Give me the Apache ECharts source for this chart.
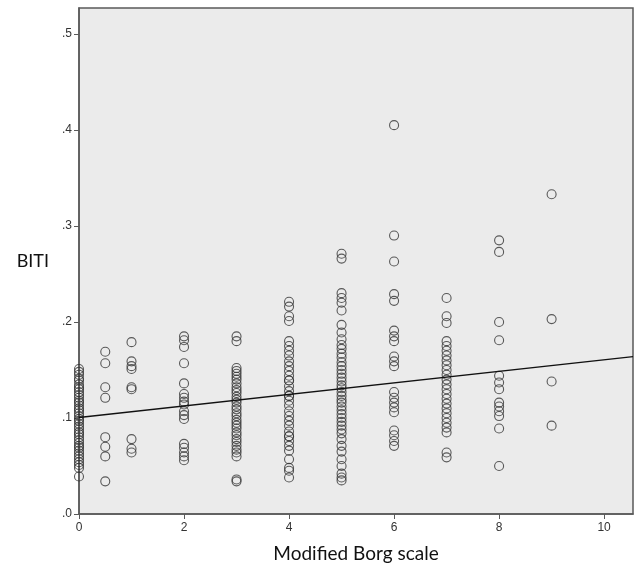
<!DOCTYPE html>
<html>
<head>
<meta charset="utf-8">
<script src="https://cdn.jsdelivr.net/npm/echarts@6/dist/echarts.min.js"></script>
<style>
  html, body { margin: 0; padding: 0; background: #fff; }
  #chart { width: 639px; height: 568px; }
</style>
</head>
<body>
<div id="chart"></div>
<script>
// Borg score columns and the BITI values
var borg = [0, 0.5, 1, 2, 3, 4, 5, 6, 7, 8, 9];
var biti0 = [0.151, 0.148, 0.145, 0.141, 0.139, 0.135, 0.132, 0.130, 0.127, 0.124, 0.121, 0.118, 0.116, 0.113, 0.110, 0.108, 0.105, 0.102, 0.099, 0.097, 0.094, 0.091, 0.088, 0.085, 0.083, 0.080, 0.077, 0.074, 0.071, 0.069, 0.066, 0.063, 0.060, 0.057, 0.054, 0.051, 0.048, 0.039];
var biti05 = [0.169, 0.157, 0.132, 0.121, 0.080, 0.070, 0.060, 0.034];
var biti1 = [0.179, 0.159, 0.154, 0.151, 0.132, 0.130, 0.078, 0.068, 0.064];
var biti2 = [0.185, 0.181, 0.174, 0.157, 0.136, 0.125, 0.121, 0.117, 0.114, 0.107, 0.103, 0.099, 0.073, 0.069, 0.064, 0.060, 0.056];
var biti3 = [0.185, 0.180, 0.152, 0.149, 0.146, 0.143, 0.140, 0.136, 0.132, 0.129, 0.126, 0.122, 0.119, 0.116, 0.112, 0.109, 0.105, 0.102, 0.098, 0.095, 0.092, 0.089, 0.085, 0.082, 0.078, 0.075, 0.071, 0.067, 0.064, 0.060, 0.036, 0.034];
var biti4 = [0.221, 0.216, 0.206, 0.201, 0.180, 0.175, 0.170, 0.165, 0.159, 0.154, 0.149, 0.144, 0.139, 0.139, 0.133, 0.128, 0.123, 0.123, 0.118, 0.113, 0.107, 0.102, 0.097, 0.092, 0.086, 0.081, 0.081, 0.076, 0.071, 0.066, 0.057, 0.048, 0.045, 0.038];
var biti5 = [0.271, 0.266, 0.230, 0.225, 0.220, 0.212, 0.197, 0.189, 0.182, 0.176, 0.172, 0.167, 0.163, 0.158, 0.154, 0.150, 0.146, 0.142, 0.138, 0.134, 0.131, 0.127, 0.123, 0.119, 0.116, 0.112, 0.108, 0.104, 0.100, 0.096, 0.092, 0.088, 0.084, 0.078, 0.071, 0.065, 0.057, 0.050, 0.042, 0.038, 0.035];
var biti6 = [0.405, 0.290, 0.263, 0.229, 0.222, 0.191, 0.185, 0.180, 0.164, 0.159, 0.154, 0.127, 0.121, 0.116, 0.111, 0.106, 0.087, 0.082, 0.076, 0.071];
var biti7 = [0.225, 0.206, 0.199, 0.180, 0.175, 0.170, 0.165, 0.160, 0.155, 0.150, 0.145, 0.140, 0.135, 0.130, 0.125, 0.120, 0.115, 0.110, 0.105, 0.100, 0.095, 0.090, 0.085, 0.064, 0.059];
var biti8 = [0.285, 0.273, 0.200, 0.181, 0.144, 0.137, 0.130, 0.116, 0.112, 0.107, 0.102, 0.089, 0.050];
var biti9 = [0.333, 0.203, 0.138, 0.092];
var columns = [biti0, biti05, biti1, biti2, biti3, biti4, biti5, biti6, biti7, biti8, biti9];

// fit line (intercept, slope) and axis ticks
var fitIntercept = 0.1005;
var fitSlope = 0.0060;
var xMax = 10.55;
var yMax = 0.527;
var xTicks = [0, 2, 4, 6, 8, 10];
var yTicks = [0, 0.1, 0.2, 0.3, 0.4, 0.5];

var points = [];
columns.forEach(function (col, i) {
  col.forEach(function (v) { points.push([borg[i], v]); });
});
var fitLine = [[0, fitIntercept], [xMax, fitIntercept + fitSlope * xMax]];

var myChart = echarts.init(document.getElementById('chart'));
var option = {
  animation: false,
  grid: {
    left: 79, right: 6, top: 8, bottom: 52,
    show: true,
    backgroundColor: '#EBEBEB',
    borderColor: '#5a5a5a',
    borderWidth: 1.5
  },
  xAxis: {
    type: 'value',
    min: 0, max: xMax,
    name: 'Modified Borg scale',
    nameLocation: 'middle',
    nameGap: 30,
    nameTextStyle: { fontFamily: 'Lato', fontSize: 19, color: '#111' },
    axisLine: { show: true, lineStyle: { color: '#5a5a5a', width: 1.5 } },
    axisTick: { show: true, length: 5, customValues: xTicks, lineStyle: { color: '#5a5a5a' } },
    axisLabel: { customValues: xTicks, color: '#333', fontSize: 12, fontFamily: 'Liberation Sans', margin: 8 },
    splitLine: { show: false }
  },
  yAxis: {
    type: 'value',
    min: 0, max: yMax,
    name: 'BITI',
    nameLocation: 'middle',
    nameRotate: 0,
    nameGap: 30,
    nameTextStyle: { fontFamily: 'Lato', fontSize: 18, color: '#111', padding: [0, 0, 20, 0] },
    axisLine: { show: true, lineStyle: { color: '#5a5a5a', width: 1.5 } },
    axisTick: { show: true, length: 5, customValues: yTicks, lineStyle: { color: '#5a5a5a' } },
    axisLabel: {
      customValues: yTicks, color: '#333', fontSize: 12, fontFamily: 'Liberation Sans', margin: 7,
      formatter: function (v) { return v.toFixed(1).replace(/^0/, ''); }
    },
    splitLine: { show: false }
  },
  series: [
    {
      type: 'scatter',
      data: points,
      clip: false,
      symbol: 'circle',
      symbolSize: 9,
      itemStyle: { color: 'transparent', borderColor: '#333', borderWidth: 1.1 }
    },
    {
      type: 'line',
      data: fitLine,
      showSymbol: false,
      symbol: 'none',
      lineStyle: { color: '#111', width: 1.3 }
    }
  ]
};
myChart.clear();
myChart.setOption(option);
</script>
</body>
</html>
